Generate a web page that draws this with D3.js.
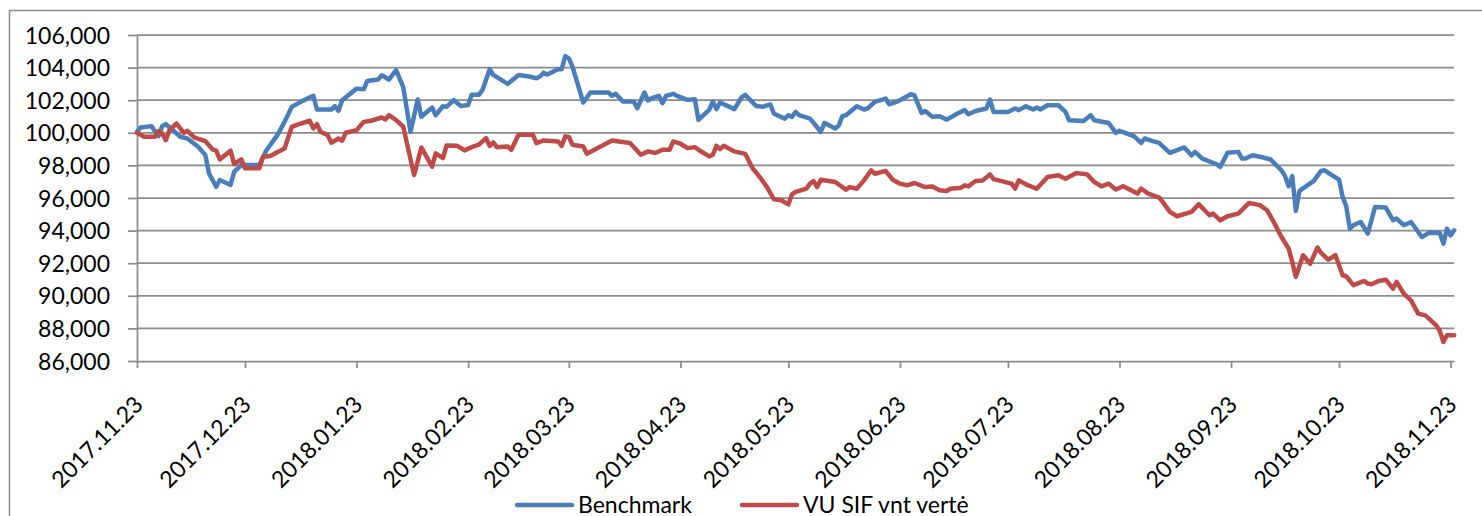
<!DOCTYPE html>
<html><head><meta charset="utf-8">
<script src="https://cdn.jsdelivr.net/npm/d3@7"></script>
<style>
body{margin:0;background:#fff;overflow:hidden}
svg{display:block}
text{font-family:Lato,"Open Sans",sans-serif;fill:#000}
</style>
</head><body>
<svg id="chart" width="1482" height="516"></svg>
<script>
const seriesNames = ["Benchmark", "VU SIF vnt vertė"];
const seriesColors = ["#4A7EBB", "#BE4B48"];
const xTickLabels = ["2017.11.23","2017.12.23","2018.01.23","2018.02.23","2018.03.23","2018.04.23","2018.05.23","2018.06.23","2018.07.23","2018.08.23","2018.09.23","2018.10.23","2018.11.23"];
const yTickValues = [86000,88000,90000,92000,94000,96000,98000,100000,102000,104000,106000];

const benchmarkDates = ["2017-11-23","2017-11-24","2017-11-27","2017-11-29","2017-11-30","2017-12-01","2017-12-03","2017-12-05","2017-12-07","2017-12-10","2017-12-12","2017-12-13","2017-12-15","2017-12-16","2017-12-19","2017-12-20","2017-12-22","2017-12-27","2017-12-29","2018-01-01","2018-01-03","2018-01-05","2018-01-08","2018-01-11","2018-01-12","2018-01-16","2018-01-17","2018-01-18","2018-01-19","2018-01-23","2018-01-25","2018-01-26","2018-01-29","2018-01-30","2018-02-01","2018-02-03","2018-02-05","2018-02-07","2018-02-09","2018-02-10","2018-02-13","2018-02-14","2018-02-16","2018-02-17","2018-02-19","2018-02-21","2018-02-23","2018-02-24","2018-02-26","2018-02-27","2018-03-01","2018-03-02","2018-03-03","2018-03-06","2018-03-09","2018-03-12","2018-03-14","2018-03-15","2018-03-16","2018-03-17","2018-03-20","2018-03-21","2018-03-22","2018-03-23","2018-03-24","2018-03-27","2018-03-29","2018-04-03","2018-04-04","2018-04-05","2018-04-07","2018-04-10","2018-04-11","2018-04-13","2018-04-14","2018-04-15","2018-04-17","2018-04-18","2018-04-19","2018-04-21","2018-04-22","2018-04-25","2018-04-27","2018-04-28","2018-05-01","2018-05-02","2018-05-03","2018-05-04","2018-05-08","2018-05-10","2018-05-11","2018-05-14","2018-05-16","2018-05-18","2018-05-19","2018-05-22","2018-05-23","2018-05-24","2018-05-25","2018-05-26","2018-05-29","2018-05-30","2018-06-01","2018-06-02","2018-06-05","2018-06-06","2018-06-07","2018-06-08","2018-06-11","2018-06-13","2018-06-14","2018-06-16","2018-06-19","2018-06-20","2018-06-22","2018-06-23","2018-06-26","2018-06-27","2018-06-29","2018-06-30","2018-07-02","2018-07-04","2018-07-06","2018-07-09","2018-07-11","2018-07-12","2018-07-14","2018-07-17","2018-07-18","2018-07-19","2018-07-23","2018-07-25","2018-07-26","2018-07-28","2018-07-30","2018-07-31","2018-08-01","2018-08-03","2018-08-06","2018-08-08","2018-08-09","2018-08-13","2018-08-15","2018-08-16","2018-08-20","2018-08-22","2018-08-23","2018-08-27","2018-08-29","2018-08-30","2018-09-01","2018-09-03","2018-09-06","2018-09-10","2018-09-12","2018-09-13","2018-09-15","2018-09-19","2018-09-20","2018-09-22","2018-09-25","2018-09-26","2018-09-27","2018-09-29","2018-10-02","2018-10-04","2018-10-07","2018-10-08","2018-10-09","2018-10-10","2018-10-11","2018-10-12","2018-10-16","2018-10-18","2018-10-19","2018-10-21","2018-10-23","2018-10-24","2018-10-25","2018-10-26","2018-10-27","2018-10-29","2018-10-31","2018-11-02","2018-11-05","2018-11-07","2018-11-08","2018-11-10","2018-11-12","2018-11-15","2018-11-17","2018-11-20","2018-11-21","2018-11-22","2018-11-23","2018-11-24"];
const benchmarkValues = [100050,100330,100410,99800,100410,100530,100160,99760,99650,99140,98630,97510,96690,97100,96800,97610,98020,98020,98940,99860,100670,101590,101960,102270,101430,101430,101630,101350,102000,102710,102670,103180,103270,103530,103270,103840,102780,100060,102040,100980,101550,101080,101630,101590,102000,101650,101710,102330,102330,102630,103900,103550,103410,103000,103550,103450,103350,103450,103690,103570,103900,103900,104710,104570,104060,101860,102470,102470,102270,102390,101920,101920,101510,102470,101980,102120,102270,101820,102270,102390,102270,102020,102060,100800,101410,101920,101450,101860,101450,102180,102330,101650,101600,101740,101170,100870,101080,100975,101280,101080,100870,100610,100050,100610,100260,100460,101020,101080,101630,101430,101490,101900,102100,101750,101900,102000,102370,102310,101220,101340,100980,101020,100810,101180,101390,101140,101340,101490,102040,101280,101280,101490,101390,101630,101430,101550,101430,101690,101690,101280,100770,100730,101080,100770,100600,100000,100120,99790,99380,99650,99500,99380,98770,99100,98620,98830,98420,98070,97910,98770,98830,98420,98420,98620,98480,98360,97700,97340,96720,97340,95210,96440,97050,97660,97700,97400,97130,96070,95490,94120,94330,94530,93820,95450,95410,94640,94740,94330,94530,93610,93860,93860,93200,94120,93710,94020];

const vuDates = ["2017-11-23","2017-11-25","2017-11-28","2017-11-29","2017-11-30","2017-12-01","2017-12-02","2017-12-04","2017-12-06","2017-12-07","2017-12-09","2017-12-12","2017-12-14","2017-12-15","2017-12-16","2017-12-19","2017-12-20","2017-12-22","2017-12-23","2017-12-27","2017-12-28","2017-12-30","2018-01-03","2018-01-05","2018-01-07","2018-01-10","2018-01-11","2018-01-12","2018-01-13","2018-01-15","2018-01-16","2018-01-18","2018-01-19","2018-01-20","2018-01-23","2018-01-25","2018-01-27","2018-01-30","2018-01-31","2018-02-01","2018-02-03","2018-02-05","2018-02-06","2018-02-08","2018-02-10","2018-02-13","2018-02-14","2018-02-16","2018-02-17","2018-02-20","2018-02-22","2018-02-24","2018-02-26","2018-02-28","2018-03-01","2018-03-02","2018-03-03","2018-03-06","2018-03-07","2018-03-09","2018-03-13","2018-03-14","2018-03-16","2018-03-20","2018-03-21","2018-03-22","2018-03-23","2018-03-24","2018-03-27","2018-03-28","2018-04-04","2018-04-09","2018-04-12","2018-04-14","2018-04-16","2018-04-18","2018-04-20","2018-04-21","2018-04-23","2018-04-25","2018-04-27","2018-04-28","2018-05-01","2018-05-02","2018-05-03","2018-05-04","2018-05-05","2018-05-08","2018-05-11","2018-05-13","2018-05-15","2018-05-17","2018-05-19","2018-05-21","2018-05-23","2018-05-24","2018-05-25","2018-05-28","2018-05-29","2018-05-30","2018-05-31","2018-06-01","2018-06-05","2018-06-08","2018-06-09","2018-06-11","2018-06-13","2018-06-15","2018-06-16","2018-06-19","2018-06-21","2018-06-23","2018-06-25","2018-06-27","2018-06-30","2018-07-02","2018-07-04","2018-07-06","2018-07-07","2018-07-10","2018-07-11","2018-07-12","2018-07-14","2018-07-16","2018-07-18","2018-07-19","2018-07-24","2018-07-25","2018-07-26","2018-07-28","2018-07-31","2018-08-03","2018-08-06","2018-08-08","2018-08-11","2018-08-14","2018-08-16","2018-08-18","2018-08-20","2018-08-22","2018-08-24","2018-08-28","2018-08-29","2018-08-31","2018-09-03","2018-09-04","2018-09-06","2018-09-08","2018-09-12","2018-09-14","2018-09-17","2018-09-18","2018-09-20","2018-09-22","2018-09-25","2018-09-28","2018-10-01","2018-10-03","2018-10-05","2018-10-07","2018-10-09","2018-10-10","2018-10-11","2018-10-13","2018-10-15","2018-10-17","2018-10-18","2018-10-20","2018-10-22","2018-10-24","2018-10-25","2018-10-27","2018-10-30","2018-10-31","2018-11-01","2018-11-03","2018-11-05","2018-11-07","2018-11-08","2018-11-10","2018-11-12","2018-11-14","2018-11-16","2018-11-19","2018-11-20","2018-11-21","2018-11-22","2018-11-24"];
const vuValues = [100000,99760,99760,100100,99960,99550,100160,100570,100000,100120,99710,99490,98980,98900,98370,98900,98080,98370,97820,97820,98530,98570,99040,100370,100530,100740,100270,100530,100060,99860,99390,99650,99510,100000,100160,100670,100740,100940,100820,101080,100780,100370,99350,97410,99100,97920,98740,98450,99220,99200,98920,99120,99270,99670,99200,99410,99120,99160,98960,99880,99880,99370,99530,99470,99200,99780,99740,99270,99160,98710,99530,99370,98650,98860,98760,98960,98960,99470,99330,99060,99120,98960,98550,98650,99200,99000,99200,98860,98710,97840,97300,96680,95920,95860,95610,96220,96370,96570,96880,97040,96670,97120,96980,96510,96670,96570,97080,97700,97490,97660,97120,96880,96780,96920,96670,96710,96470,96430,96570,96630,96780,96710,97040,97080,97450,97160,96880,96570,97080,96840,96570,97290,97390,97180,97530,97450,96980,96720,96880,96520,96720,96270,96580,96270,96030,95760,95150,94880,95150,95620,94940,95040,94630,94880,95040,95700,95560,95250,94470,93610,92900,92080,91160,92490,91970,92960,92630,92220,92490,91260,91200,90650,90910,90750,90710,90910,90990,90440,90850,90130,89720,88910,88800,88190,87840,87170,87580,87580];

(function () {
const parseDate = d3.utcParse("%Y-%m-%d");
const parseTick = d3.utcParse("%Y.%m.%d");

const series = [
  benchmarkDates.map((d, i) => ({date: parseDate(d), value: benchmarkValues[i]})),
  vuDates.map((d, i) => ({date: parseDate(d), value: vuValues[i]}))
];

const svg = d3.select("#chart");
const plotLeft = 137, plotRight = 1454.2, plotTop = 35, plotBottom = 361;
const fontSize = 23;

// outer frame
svg.append("rect").attr("x", 9.5).attr("y", 10.5).attr("width", 1490).attr("height", 530)
  .attr("fill", "none").attr("stroke", "#8a8a8a").attr("stroke-width", 1.5);

const allDates = series[0].concat(series[1]).map(d => d.date);
const x = d3.scaleUtc().domain(d3.extent(allDates)).range([plotLeft, plotRight]);
const y = d3.scaleLinear().domain([d3.min(yTickValues), d3.max(yTickValues)]).range([plotBottom, plotTop]);

const gridColor = "#8c8c8c";

// gridlines
svg.append("g").selectAll("line").data(yTickValues.filter(v => v !== d3.min(yTickValues))).join("line")
  .attr("x1", plotLeft).attr("x2", plotRight)
  .attr("y1", d => y(d)).attr("y2", d => y(d))
  .attr("stroke", gridColor).attr("stroke-width", 1.75);

// y axis
const yAxis = svg.append("g").attr("transform", `translate(${plotLeft},0)`)
  .call(d3.axisLeft(y).tickValues(yTickValues).tickFormat(d3.format(",")).tickSize(9).tickSizeOuter(0).tickPadding(18));
yAxis.select(".domain").attr("stroke", gridColor).attr("stroke-width", 1.75);
yAxis.selectAll(".tick line").attr("stroke", gridColor).attr("stroke-width", 1.75);
yAxis.selectAll(".tick text").attr("font-size", fontSize).attr("font-family", "Lato").attr("dy", "0.35em").attr("fill", "#000");

// x axis
const xTicks = xTickLabels.map(s => parseTick(s));
const xAxis = svg.append("g").attr("transform", `translate(0,${plotBottom})`)
  .call(d3.axisBottom(x).tickValues(xTicks).tickFormat((d, i) => xTickLabels[i]).tickSize(7).tickSizeOuter(0));
xAxis.select(".domain").attr("stroke", gridColor).attr("stroke-width", 1.75);
xAxis.selectAll(".tick line").attr("stroke", gridColor).attr("stroke-width", 1.75);
xAxis.selectAll(".tick text")
  .attr("font-size", fontSize).attr("font-family", "Lato").attr("fill", "#000")
  .attr("text-anchor", "end").attr("x", 0).attr("y", 0).attr("dy", 0)
  .attr("transform", "translate(7,45) rotate(-45)");

// lines
const line = d3.line().x(d => x(d.date)).y(d => y(d.value));
svg.append("g").selectAll("path").data(series).join("path")
  .attr("d", line)
  .attr("fill", "none")
  .attr("stroke", (d, i) => seriesColors[i])
  .attr("stroke-width", 4.5)
  .attr("stroke-linejoin", "round")
  .attr("stroke-linecap", "round");

// legend
const legendX = [517, 742];
const lg = svg.append("g").selectAll("g").data(seriesNames).join("g")
  .attr("transform", (d, i) => `translate(${legendX[i]},505)`);
lg.append("line").attr("x1", 0).attr("x2", 55).attr("y1", 0).attr("y2", 0)
  .attr("stroke", (d, i) => seriesColors[i]).attr("stroke-width", 4.5).attr("stroke-linecap", "round");
lg.append("text").attr("x", 61).attr("y", 7.5).attr("font-size", fontSize).text(d => d);
})();
</script>
</body></html>
